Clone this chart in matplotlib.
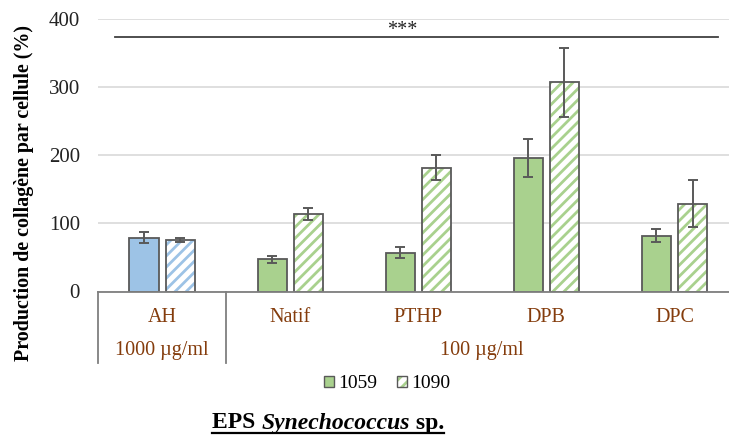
import matplotlib
matplotlib.use("Agg")
import matplotlib.pyplot as plt
from matplotlib.lines import Line2D
from matplotlib.patches import Patch
from matplotlib.legend_handler import HandlerTuple
import numpy as np

plt.rcParams['font.family'] = ['Liberation Serif', 'DejaVu Serif']
plt.rcParams['hatch.linewidth'] = 2.0

categories = ["AH", "Natif", "PTHP", "DPB", "DPC"]
conc_labels = ["1000 µg/ml", "100 µg/ml"]
series_names = ["1059", "1090"]
vals_1059 = [79, 47, 57, 196, 82]
err_1059 = [8, 5.5, 8, 28.5, 9.5]
vals_1090 = [76, 114, 182, 307, 129]
err_1090 = [3, 8.5, 18, 51, 35]
signif_y = 373
signif_text = "***"
yticks = [0, 100, 200, 300, 400]
ylabel = "Production de collagène par cellule (%)"

BLUE = "#9DC3E6"
GREEN = "#A9D18E"
EDGE = "#595959"
BROWN = "#843C0C"

W, H = 729, 437
fig = plt.figure(figsize=(W / 100, H / 100), dpi=100)
ax = fig.add_axes([98 / W, 1 - 291.5 / H, (738.5 - 98) / W, (291.5 - 19) / H])

x = np.arange(len(categories))
bw = 0.227
off = 0.141
fills = [BLUE] + [GREEN] * (len(categories) - 1)

for i in range(len(categories)):
    ax.bar(x[i] - off, vals_1059[i], bw, color=fills[i], edgecolor=EDGE, linewidth=1.3, zorder=3)
    ax.bar(x[i] + off, vals_1090[i], bw, color="white", edgecolor=fills[i], hatch="///", linewidth=0, zorder=3)
    ax.bar(x[i] + off, vals_1090[i], bw, fill=False, edgecolor=EDGE, linewidth=1.3, zorder=4)

ax.errorbar(x - off, vals_1059, yerr=err_1059, fmt="none", ecolor=EDGE, elinewidth=1.4, capsize=3.5, capthick=1.4, zorder=5)
ax.errorbar(x + off, vals_1090, yerr=err_1090, fmt="none", ecolor=EDGE, elinewidth=1.4, capsize=3.5, capthick=1.4, zorder=5)

ax.set_ylim(0, 400)
ax.set_xlim(-0.5, len(categories) - 0.5)
ax.set_yticks(yticks)
ax.tick_params(axis="y", length=0, pad=13, labelsize=15, colors="#222222")
ax.set_xticks([])
ax.grid(axis="y", color="#D9D9D9", linewidth=1.2, zorder=0)
for s in ["top", "right", "left"]:
    ax.spines[s].set_visible(False)
ax.spines["bottom"].set_color("#7F7F7F")
ax.spines["bottom"].set_linewidth(1.3)
ax.spines["bottom"].set_zorder(6)

# significance bar
ax.plot([-0.367, 4.34], [signif_y, signif_y], color="#404040", lw=1.3, clip_on=False, zorder=5)
ax.text(1.875, 383, signif_text, ha="center", va="center", fontsize=14.5, color="#222222")

ax.set_ylabel(ylabel, fontsize=14.4, fontweight="bold")
ax.yaxis.set_label_coords(-(98 - 34) / (738.5 - 98), (291.5 - 193) / (291.5 - 19))

# category axis (multi-level)
def ypx(p):
    return 1 - p / H
def xdata_to_fig(xd):
    return (98 + (xd + 0.5) * 128.1) / W

for xd in [-0.5, 0.5, 4.5]:
    fig.add_artist(Line2D([xdata_to_fig(xd)] * 2, [ypx(291.5), ypx(363)], color="#7F7F7F", lw=1.3))
for i, c in enumerate(categories):
    fig.text(xdata_to_fig(i), ypx(318), c, ha="center", va="center", fontsize=14.5, color=BROWN)
fig.text(xdata_to_fig(0), ypx(351), conc_labels[0], ha="center", va="center", fontsize=14.5, color=BROWN)
fig.text(xdata_to_fig(2.5), ypx(351), conc_labels[1], ha="center", va="center", fontsize=14.5, color=BROWN)

# legend
h1 = Patch(facecolor=GREEN, edgecolor=EDGE, linewidth=1.0)
h2a = Patch(facecolor="white", edgecolor=GREEN, hatch="///", linewidth=0)
h2b = Patch(facecolor="none", edgecolor=EDGE, linewidth=1.0)
fig.legend(handles=[h1, (h2a, h2b)], labels=series_names, loc="center", bbox_to_anchor=(387 / W, ypx(384)), ncol=2,
           frameon=False, fontsize=14, handlelength=0.55, handleheight=0.55, handletextpad=0.2, columnspacing=1.0,
           handler_map={tuple: HandlerTuple(ndivide=1, pad=0)})

# bottom title, underlined with italic part
fig.canvas.draw()
r = fig.canvas.get_renderer()
parts = [("EPS ", "normal"), ("Synechococcus", "italic"), (" sp.", "normal")]
tx = 212
ty = 423
for s, st in parts:
    t = fig.text(tx / W, ypx(ty), s, ha="left", va="center", fontsize=17, fontweight="bold", fontstyle=st, color="black")
    bb = t.get_window_extent(renderer=r)
    tx += bb.width
fig.add_artist(Line2D([212 / W, tx / W], [ypx(433), ypx(433)], color="black", lw=1.6))

fig.savefig("out.png", dpi=100)
